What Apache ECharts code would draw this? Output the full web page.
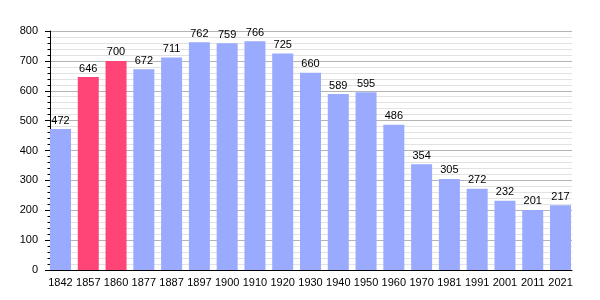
<!DOCTYPE html>
<html>
<head>
<meta charset="utf-8">
<script src="https://cdn.jsdelivr.net/npm/echarts@6/dist/echarts.min.js"></script>
<style>html,body{margin:0;padding:0;background:#fff;}#c{width:600px;height:300px;}</style>
</head>
<body>
<div id="c"></div>
<script>
const years = ['1842','1857','1860','1877','1887','1897','1900','1910','1920','1930','1940','1950','1960','1970','1981','1991','2001','2011','2021'];
const population = [472,646,700,672,711,762,759,766,725,660,589,595,486,354,305,272,232,201,217];
const highlighted = ['1857','1860'];
const yTicks = [0,100,200,300,400,500,600,700,800];

const BLUE = '#99aaff', RED = '#ff4477';
const font = 'Liberation Sans, Arial, sans-serif';
const chart = echarts.init(document.getElementById('c'), null, {renderer:'canvas'});
chart.setOption({
  animation:false,
  grid:[
    {left:50, right:28, top:31, bottom:30},
    {left:46.6, width:527.8, top:31, bottom:30}
  ],
  xAxis:[
    {gridIndex:0, type:'category', data:years, axisLine:{show:true, lineStyle:{color:'#000', width:1}}, axisTick:{show:false}, axisLabel:{show:false}, splitLine:{show:false}},
    {gridIndex:1, type:'category', data:years, axisLine:{show:false}, axisTick:{show:false},
     axisLabel:{show:true, margin:7, fontSize:11, color:'#000', fontFamily:font, interval:0}}
  ],
  yAxis:[
    {gridIndex:0, type:'value', min:yTicks[0], max:yTicks[yTicks.length-1], interval:100,
     axisLine:{show:true, lineStyle:{color:'#000', width:1}},
     axisTick:{show:true, length:5, lineStyle:{color:'#000'}},
     minorTick:{show:true, splitNumber:5, length:2.5, lineStyle:{color:'#000'}},
     axisLabel:{margin:12, fontSize:11, color:'#000', fontFamily:font},
     splitLine:{show:true, lineStyle:{color:'#b4b4b4', width:1}},
     minorSplitLine:{show:true, lineStyle:{color:'#e2e2e2', width:1}}},
    {gridIndex:1, type:'value', min:yTicks[0], max:yTicks[yTicks.length-1], show:false, splitLine:{show:false}}
  ],
  series:[
    {type:'bar', xAxisIndex:1, yAxisIndex:1, barWidth:21,
     data: population.map((v,i)=>({value:v, itemStyle:{color: highlighted.includes(years[i]) ? RED : BLUE}})),
     label:{show:true, position:'top', distance:3, fontSize:11, color:'#000', fontFamily:font}}
  ]
});
</script>
</body>
</html>
